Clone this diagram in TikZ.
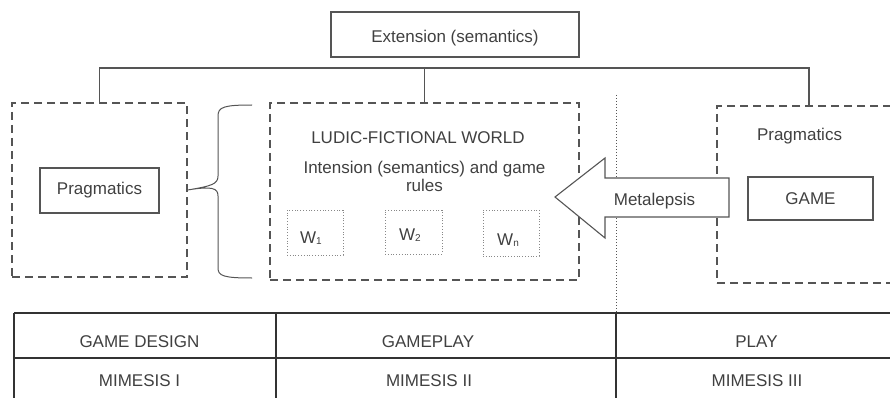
\documentclass[tikz,border=0pt]{standalone}
\usepackage{fontspec}
\setmainfont{Liberation Sans}
\definecolor{txt}{HTML}{404040}
\definecolor{ln}{HTML}{555555}
\newcommand{\wsub}[1]{W{\fontsize{10}{10}\selectfont\raisebox{-1pt}{#1}}}
\begin{document}
\begin{tikzpicture}[x=1pt,y=-1pt,
  every node/.style={font=\fontsize{17}{20}\selectfont, text=txt},
  solidbox/.style={draw=ln, line width=1.1pt, rectangle, inner sep=0pt},
  dashbox/.style={draw=ln, line width=1.1pt, dash pattern=on 8pt off 5pt, rectangle, inner sep=0pt},
  dotbox/.style={draw=ln!70, line width=0.9pt, dash pattern=on 1pt off 1.8pt, rectangle, inner sep=0pt},
  conn/.style={draw=ln, line width=1.1pt},
  tab/.style={draw=black!80, line width=1.1pt}]
\useasboundingbox (0,0) rectangle (890,398);
% top
\node[solidbox, minimum width=248pt, minimum height=45pt] (ext) at (455,34.5) {};
\node at (455,38) {Extension (semantics)};
% left
\node[dashbox, minimum width=175pt, minimum height=174pt] (L) at (99.5,190) {};
\node[solidbox, minimum width=119pt, minimum height=45pt] (pl) at (99.5,190.5) {Pragmatics};
% ludic
\node[dashbox, minimum width=309pt, minimum height=177pt] (F) at (424.5,191.5) {};
\node (ft) at (418,138) {LUDIC-FICTIONAL WORLD};
\node[align=center] (fi) at (424.5,176) {Intension (semantics) and game\\[-2pt]rules};
\node[dotbox, minimum width=56pt, minimum height=45pt] (w1) at (315,232.5) {};
\node (w1t) at (311,238) {\wsub{1}};
\node[dotbox, minimum width=57pt, minimum height=44pt] (w2) at (413.5,232) {};
\node (w2t) at (410,235) {\wsub{2}};
\node[dotbox, minimum width=56pt, minimum height=46pt] (wn) at (511,233) {};
\node (wnt) at (508,240) {\wsub{n}};
% right
\node[dashbox, minimum width=200pt, minimum height=177pt] (R) at (817,194.5) {};
\node (rp) at (799.5,136) {Pragmatics};
\node[solidbox, minimum width=125pt, minimum height=43pt] (game) at (810.5,198.5) {GAME};
% bracket
\coordinate (bar) at (0,68);
\coordinate (rt) at (809,106);
\draw[conn] (L.north) -- (L.north |- bar) -| (rt);
\draw[conn] (F.north) -- (F.north |- bar);
% brace
\coordinate (bt) at (252,105);
\coordinate (bb) at (252,278);
\draw[conn, line width=1pt] (bt) .. controls (224,105) and (218,107) .. (218,116) -- (218,176)
  .. controls (218,184) and (212,186) .. (L.east)
  .. controls (212,186) and (218,188) .. (218,196) -- (218,268)
  .. controls (218,276) and (224,278) .. (bb);
% dotted separator
\coordinate (d1) at (616,95);
\coordinate (d2) at (616,313);
\draw[draw=ln, line width=0.8pt, dash pattern=on 1pt off 2pt] (d1) -- (d2);
% metalepsis arrow
\draw[draw=ln, line width=1.1pt, fill=white] (729,178) -- (605,178) -- (605,158) -- (555,197) -- (605,238) -- (605,217) -- (729,217) -- cycle;
\node (met) at (654.5,201) {Metalepsis};
% table
\coordinate (t0) at (14,313);
\coordinate (t1) at (890,313);
\coordinate (m0) at (14,358);
\coordinate (m1) at (890,358);
\draw[tab] (t0) -- (t1);
\draw[tab] (m0) -- (m1);
\draw[tab] (14,313) -- (14,398);
\draw[tab] (276,313) -- (276,398);
\draw[tab] (616,313) -- (616,398);
\node (c1) at (139.5,342) {GAME DESIGN};
\node (c2) at (428,342) {GAMEPLAY};
\node (c3) at (756.5,342) {PLAY};
\node (c4) at (139.5,381) {MIMESIS I};
\node (c5) at (429,381) {MIMESIS II};
\node (c6) at (757,381) {MIMESIS III};
\end{tikzpicture}
\end{document}
